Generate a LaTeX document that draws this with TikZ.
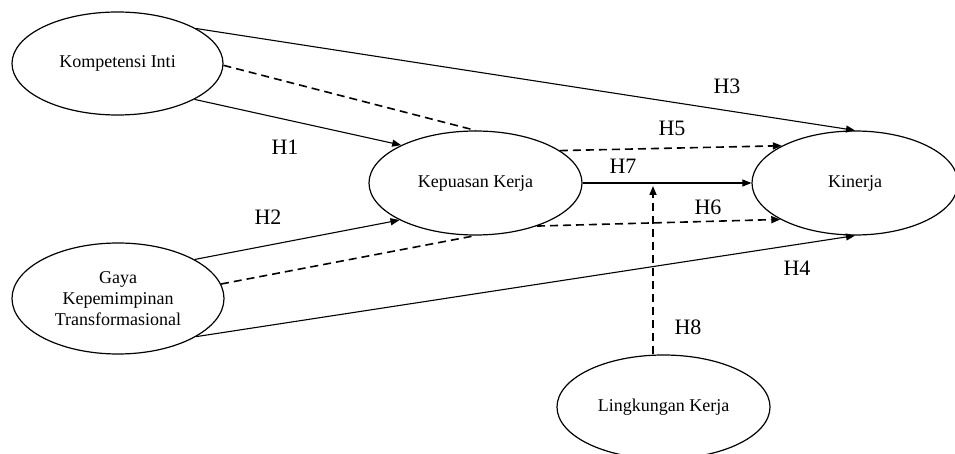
\documentclass[tikz,border=0pt]{standalone}
\usepackage{fontspec}
\setmainfont{Liberation Serif}
\usetikzlibrary{shapes.geometric,arrows.meta}
\begin{document}
\begin{tikzpicture}[x=1pt,y=-1pt,
  var/.style={ellipse,draw,line width=1.2pt,inner sep=0pt,minimum width=212pt,minimum height=104pt,font=\fontsize{18}{21}\selectfont,align=center},
  lab/.style={font=\fontsize{22}{24}\selectfont},
  tip/.style={-{Triangle[length=9pt,width=7pt]}},
  solidline/.style={line width=1.1pt},
  dashline/.style={line width=1.6pt,dash pattern=on 8pt off 5pt}]
\useasboundingbox (0,0) rectangle (955,454);
\node[var,minimum width=211pt,minimum height=103pt] (ki) at (117.5,63.5) {Kompetensi Inti};
\node[var,minimum width=213pt] (kk) at (475.5,183) {Kepuasan Kerja};
\node[var,minimum width=206pt] (kin) at (855,183) {Kinerja};
\node[var,minimum width=212pt,minimum height=111pt] (gkt) at (118,298.5) {Gaya\\[0pt]Kepemimpinan\\[0pt]Transformasional};
\node[var,minimum width=213pt] (lk) at (663.5,407) {Lingkungan Kerja};
\coordinate (h8end) at (653,186);
% paths
\draw[solidline,tip] (ki.24.6) -- (kin.north);
\draw[dashline] (ki.-1) -- (kk.north);
\draw[solidline,tip] (ki.-25.2) -- (kk.153.3);
\draw[solidline,tip] (gkt.27.7) -- (kk.206.4);
\draw[dashline] (gkt.8) -- (kk.south);
\draw[solidline,tip] (gkt.-26) -- (kin.south);
\draw[dashline,tip] (kk.21) -- (kin.153.7);
\draw[solidline,tip] (kk.east) -- (kin.west);
\draw[dashline,tip] (kk.-35.2) -- (kin.206.3);
\draw[dashline,tip] (lk.north -| h8end) -- (h8end);
% labels
\node[lab] (lh3) at (727,86) {H3};
\node[lab] (lh1) at (285,147) {H1};
\node[lab] (lh5) at (672,128) {H5};
\node[lab] (lh7) at (623,166) {H7};
\node[lab] (lh2) at (268,217) {H2};
\node[lab] (lh6) at (708,207) {H6};
\node[lab] (lh4) at (797,268) {H4};
\node[lab] (lh8) at (688,327) {H8};
\end{tikzpicture}
\end{document}
